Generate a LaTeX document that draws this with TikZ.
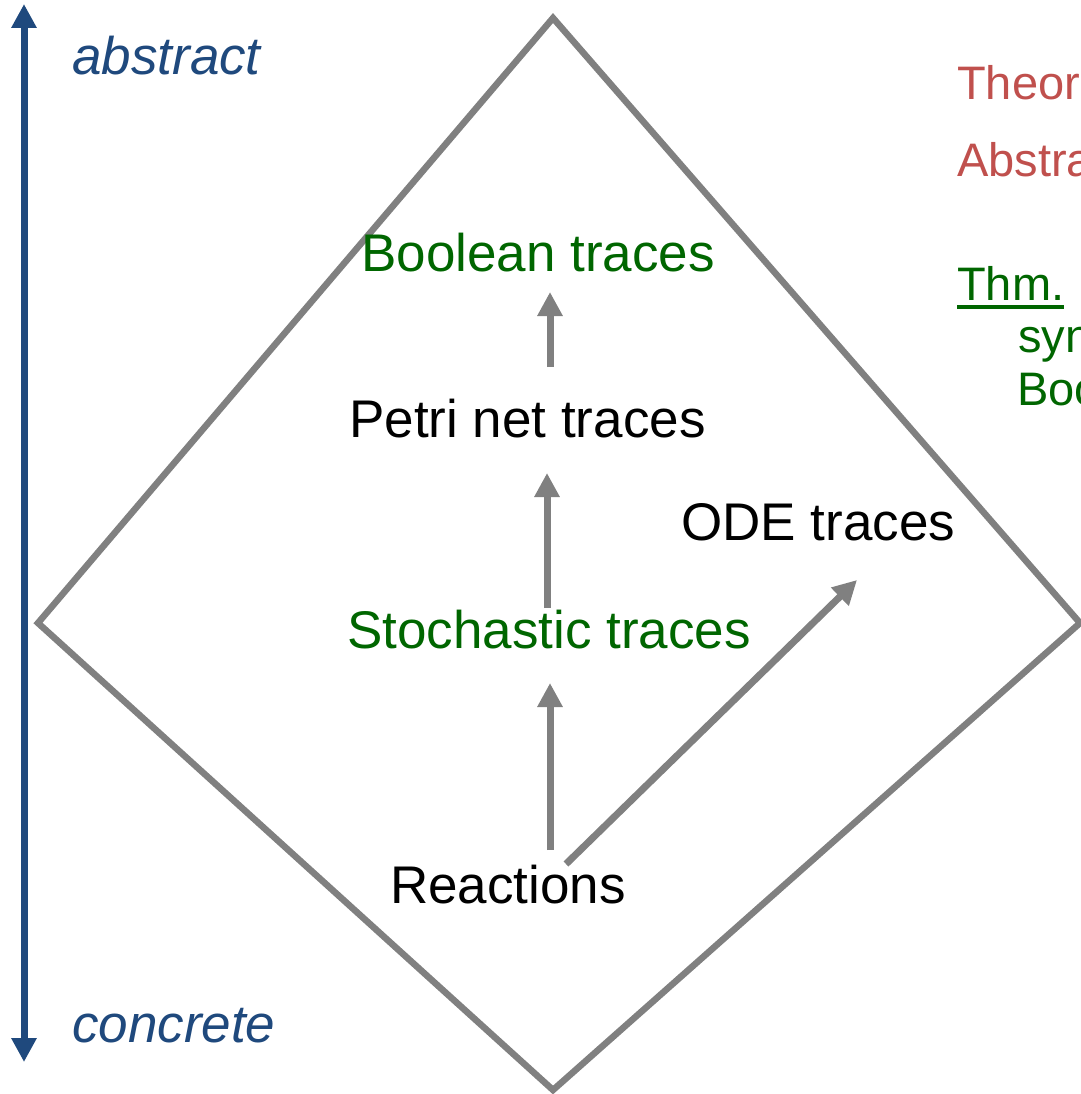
\documentclass[tikz,border=0pt]{standalone}
\usepackage{fontspec}
\setmainfont{Liberation Sans}
\usetikzlibrary{arrows.meta,calc}
\definecolor{dblue}{HTML}{1F497D}
\definecolor{dred}{HTML}{C0504D}
\definecolor{dgreen}{HTML}{006600}
\definecolor{lgray}{HTML}{808080}
\begin{document}
\begin{tikzpicture}[x=1pt,y=-1pt,
  lbl/.style={anchor=base west,inner sep=0pt,font=\fontsize{53}{60}\selectfont},
  ital/.style={anchor=base west,inner sep=0pt,text=dblue,font=\fontsize{53}{60}\selectfont\itshape},
  side/.style={anchor=base west,inner sep=0pt,font=\fontsize{47}{52}\selectfont},
  garrow/.style={draw=lgray,line width=7pt,-{Triangle[width=24pt,length=24pt]}},
  diam/.style={draw=lgray,line width=6.5pt,line join=miter},
  axis/.style={draw=dblue,line width=7pt,{Triangle[width=24pt,length=24pt]}-{Triangle[width=24pt,length=24pt]}}
]
\useasboundingbox[fill=white] (0,0) rectangle (1080,1094);
% diamond
\draw[diam] (553,18) -- (1080,623) -- (553,1090) -- (38,623) -- cycle;
% abstraction axis
\coordinate (axtop) at (24,4);
\coordinate (axbot) at (24,1062);
\draw[axis] (axtop) -- (axbot);
\node[ital] (abs) at (72,75) {abstract};
\node[ital] (con) at (72,1042) {concrete};
% trace nodes
\node[lbl,text=dgreen] (bool) at (361,271) {Boolean traces};
\node[lbl] (pn) at (349,437) {Petri net traces};
\node[lbl] (ode) at (681,540) {ODE traces};
\node[lbl,text=dgreen] (st) at (347,648) {Stochastic traces};
\node[lbl] (re) at (390,903) {Reactions};
% arrows
\draw[garrow] ($(pn.base west)+(201,-70)$) -- ($(bool.base west)+(189,21)$);
\draw[garrow] ($(st.base west)+(200,-40)$) -- ($(pn.base west)+(198,36)$);
\draw[garrow] ($(re.base west)+(160,-53)$) -- ($(st.base west)+(203,35)$);
\draw[garrow] ($(re.base west)+(176,-39)$) -- ($(ode.base west)+(176,40)$);
% side text
\node[side,text=dred] (th) at (957,100) {Theor};
\node[side,text=dred] (abst) at (957,177) {Abstra};
\node[side,text=dgreen] (thm) at (957,300) {Thm.};
\draw[dgreen,line width=4pt] ([yshift=-7pt]thm.base west) -- ([yshift=-7pt]thm.base east);
\node[side,text=dgreen] (syn) at (1018,352) {syn};
\node[side,text=dgreen] (boo) at (1017,405) {Boo};
\end{tikzpicture}
\end{document}
